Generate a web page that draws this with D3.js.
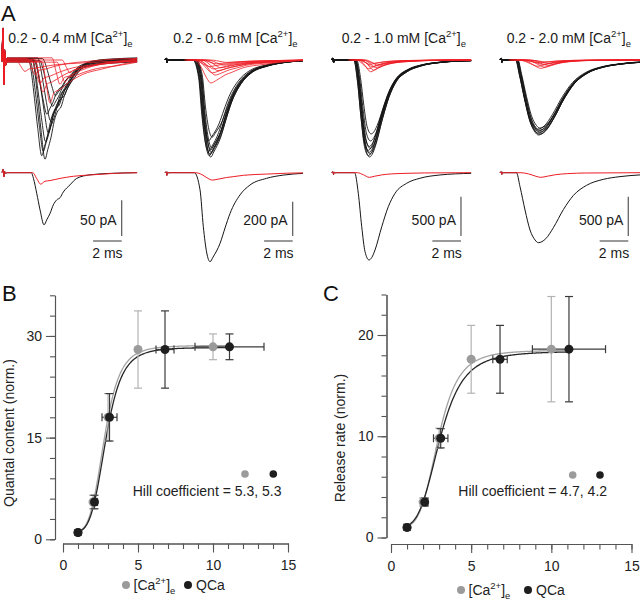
<!DOCTYPE html>
<html><head><meta charset="utf-8">
<script src="https://cdn.jsdelivr.net/npm/d3@7"></script>
<style>
body{margin:0;background:#fff}
svg{display:block}
text{font-family:"Liberation Sans",Arial,Helvetica,sans-serif}
</style>
</head><body>
<svg id="c" width="640" height="600"></svg>
<script>
// ================= DATA =================
// ---- Panel A : EPSC traces ----
const titlesA = ["0.2 - 0.4", "0.2 - 0.6", "0.2 - 1.0", "0.2 - 2.0"];
const scaleBarPA = [50, 200, 500, 500];
const scaleBarMs = 2;
const traceEndMs = [9.45, 9.65, 9.75, 9.8];

// stimulus artifact (time ms, current pA; + = inward/downward)
const artT = [0, 0.08, 0.13, 0.18, 0.25, 0.35];
const artTop = [[0,-42,32,-12,5,0],[0,-10,16,-4,1,0],[0,-25,35,-8,2,0],[0,-20,30,-6,2,0]];
const artAvg = [[0,-5,6,-2,1,0],[0,-6,16,-3,1,0],[0,-15,25,-5,1,0],[0,-15,22,-5,1,0]];

// averaged traces (key points: time ms, amplitude pA)
const avgBlackT = [
  [0,2.05,2.2,2.43,2.66,2.94,3.13,3.36,3.59,3.83,4.06,4.29,4.76,5.22,6.15,7.55,9.45],
  [0,2.05,2.45,2.68,2.92,3.15,3.36,3.85,4.2,4.55,5.24,5.94,7.1,8.27,9.65],
  [0,1.6,1.86,2.1,2.33,2.61,2.8,3.03,3.5,3.96,4.43,5.24,6.17,7.57,9.75],
  [0,1.15,1.4,1.75,2.1,2.45,2.68,3.2,3.73,4.43,5.13,6.06,7.22,8.39,9.8]
];
const avgBlackV = [
  [0,0,8,29,52,73,66,57,45,38,35,27,17,8,3,1,0],
  [0,0,100,315,468,519,492,412,322,237,130,72,33,14,4],
  [0,0,262,687,1005,1110,1080,983,687,432,262,135,71,29,8],
  [0,0,178,475,729,856,890,840,700,470,290,160,85,50,28]
];
const avgRedT = [
  [0,2.15,2.45,2.7,3.0,3.36,4.06,5.0,6.3,7.8,9.45],
  [0,2.15,2.6,3.0,3.3,3.7,4.3,4.78,5.5,7.1,8.5,9.65],
  [0,1.8,2.2,2.63,3.0,3.5,4.2,5.2,6.5,9.75],
  [0,1.4,2.0,2.5,2.85,3.3,3.9,4.7,6.0,9.8]
];
const avgRedV = [
  [0,0,9,16,12,11,8,5,3,1,0],
  [0,0,12,33,43,38,28,23,15,8,3,1],
  [0,0,25,59,45,28,15,8,3,0],
  [0,0,15,45,59,45,25,12,4,0]
];

// individual sweeps: peak amplitude (pA) and latency shift (ms)
const sweepBlackAmp = [
  [141,133,125,115,100,88,76,64,52],
  [566,558,550,542,534,525,512,470,450],
  [1234,1215,1195,1175,1150,1125,1100,1030,940],
  [954,942,930,918,905,893,880,866]
];
const sweepBlackShift = [
  [0.07,-0.16,-0.05,0.1,0.3,0.45,0.2,0.6,0.8],
  [0.05,-0.05,0,0.1,-0.1,0.05,0.12,-0.08,0.15],
  [0.03,-0.04,0.06,0,-0.06,0.08,0.02,0.1,0.15],
  [0,0.04,-0.04,0.08,-0.02,0.06,-0.06,0.1]
];
const sweepRedAmp = [
  [58,46,37,32,28,22,18,14],
  [134,88,75,62,52,45,38,30,22,14],
  [150,130,112,96,82,68,55,42],
  [106,92,80,68,56,45,35,25]
];
const sweepRedShift = [
  [0.65,0.16,1.35,-0.05,1.7,-0.4,2.05,-1.1],
  [-0.1,0.2,0,0.4,0.1,0.6,-0.2,0.8,0.3,1.0],
  [0.1,0.3,-0.05,0.45,0.2,0.6,0.05,0.35],
  [0,0.3,-0.2,0.5,0.15,0.6,-0.1,0.4]
];
// baseline offsets of the noisy 0.4 mM sweeps (pA)
const sweepBlackOffset1 = [-2,1,3,-1,2,-3,0,1,-2];
const sweepRedOffset1 = [2,-1,-3,1,3,-2,0,2];

// ---- Panel B : quantal content ----
const caB_x = [1, 2, 3, 5, 10];
const caB_y = [1, 5.5, 18, 28, 28.4];
const caB_yErr = [0.4, 1.0, 3.5, 5.7, 1.9];
const qcaB_x = [1, 2.1, 3.1, 6.8, 11.1];
const qcaB_y = [1, 5.5, 18, 28, 28.4];
const qcaB_xErr = [0.1, 0.2, 0.5, 0.6, 2.3];
const qcaB_yErr = [0.4, 1.0, 3.5, 5.7, 1.9];
const hillB_n = [5.3, 5.3], hillB_K = [2.75, 2.85], hillB_max = [28.6, 28.3];
const ticksB_y = [0, 15, 30];

// ---- Panel C : release rate ----
const caC_x = [1, 2, 3, 5, 10];
const caC_y = [1, 3.5, 9.8, 17.6, 18.6];
const caC_yErr = [0.3, 0.4, 1.0, 3.35, 5.2];
const qcaC_x = [1, 2.1, 3.1, 6.8, 11.1];
const qcaC_y = [1, 3.5, 9.8, 17.6, 18.6];
const qcaC_xErr = [0.1, 0.2, 0.45, 0.45, 2.28];
const qcaC_yErr = [0.3, 0.4, 0.95, 3.35, 5.2];
const hillC_n = [4.7, 4.2], hillC_K = [2.95, 3.05], hillC_max = [18.5, 18.4];
const ticksC_y = [0, 10, 20];
const ticksX = [0, 5, 10, 15];

// ================= DRAW =================
const svg = d3.select("#c");
const RED = "#ed1c24", BLK = "#151515", AX = "#555";

svg.append("text").attr("x",1).attr("y",20.5).attr("font-size",22).attr("fill","#111").text("A");
svg.append("text").attr("x",2).attr("y",300.5).attr("font-size",22).attr("fill","#111").text("B");
svg.append("text").attr("x",323).attr("y",300.5).attr("font-size",22).attr("fill","#111").text("C");

// ---------- Panel A ----------
const colX0 = [2, 165, 331.7, 500];
const titleX = [8.3, 173.3, 341.7, 506.7];
const pxPerMs = 14.3;
const pxPerPA = [0.714, 0.1715, 0.0786, 0.0786];
const topBase = 60, avgBase = 172.7;
const barRightMs = [8.37, 8.93, 9.04, 8.97];

function buildTrace(T, V, peak, amp, shift, offs, aV, tEnd, tStart) {
  const pts = [];
  if (aV) artT.forEach((t, i) => pts.push([t, aV[i] + offs]));
  else pts.push([tStart, offs]);
  const lastPt = pts[pts.length - 1][0];
  T.forEach((t, i) => {
    const ts = t + shift;
    if (ts > lastPt && ts < tEnd) pts.push([ts, V[i] / peak * amp + offs]);
  });
  pts.push([tEnd, V[V.length - 1] / peak * amp + offs]);
  return pts;
}

for (let c = 0; c < 4; c++) {
  const g = svg.append("g");
  const x = d3.scaleLinear().domain([0, 10]).range([colX0[c], colX0[c] + 10 * pxPerMs]);
  const yTop = d3.scaleLinear().domain([0, scaleBarPA[c]]).range([topBase, topBase + scaleBarPA[c] * pxPerPA[c]]);
  const yAvg = d3.scaleLinear().domain([0, scaleBarPA[c]]).range([avgBase, avgBase + scaleBarPA[c] * pxPerPA[c]]);
  const tEnd = traceEndMs[c];
  const bPeak = d3.max(avgBlackV[c]), rPeak = d3.max(avgRedV[c]);

  // title
  const t = g.append("text").attr("x", titleX[c]).attr("y", 43.3).attr("font-size", 14).attr("fill", "#1a1a1a");
  t.append("tspan").text(titlesA[c] + " mM [Ca");
  t.append("tspan").attr("font-size", 9.5).attr("dy", -6).text("2+");
  t.append("tspan").attr("dy", 6).text("]");
  t.append("tspan").attr("font-size", 9.5).attr("dy", 3.5).text("e");

  const lineTop = d3.line().x(d => x(d[0])).y(d => yTop(d[1])).curve(d3.curveMonotoneX);
  const lineAvg = d3.line().x(d => x(d[0])).y(d => yAvg(d[1])).curve(d3.curveMonotoneX);

  // top: individual sweeps
  sweepBlackAmp[c].forEach((a, i) => {
    const off = c === 0 ? sweepBlackOffset1[i] : 0;
    g.append("path").attr("d", lineTop(buildTrace(avgBlackT[c], avgBlackV[c], bPeak, a, sweepBlackShift[c][i], off, artTop[c], tEnd)))
      .attr("fill", "none").attr("stroke", BLK).attr("stroke-width", 0.9);
  });
  sweepRedAmp[c].forEach((a, i) => {
    const off = c === 0 ? sweepRedOffset1[i] : 0;
    const pts = c === 0
      ? buildTrace(avgRedT[c], avgRedV[c], rPeak, a, sweepRedShift[c][i], off, artTop[c], tEnd)
      : buildTrace(avgRedT[c], avgRedV[c], rPeak, a, sweepRedShift[c][i], off, null, tEnd, avgRedT[c][1] + sweepRedShift[c][i] - 0.6);
    g.append("path").attr("d", lineTop(pts))
      .attr("fill", "none").attr("stroke", RED).attr("stroke-width", 0.8);
  });

  // bottom: averages
  g.append("path").attr("d", lineAvg(buildTrace(avgBlackT[c], avgBlackV[c], bPeak, bPeak, 0, 0, artAvg[c], tEnd)))
    .attr("fill", "none").attr("stroke", BLK).attr("stroke-width", 1);
  g.append("path").attr("d", lineAvg(buildTrace(avgRedT[c], avgRedV[c], rPeak, rPeak, 0, 0, artAvg[c], tEnd)))
    .attr("fill", "none").attr("stroke", RED).attr("stroke-width", 1);

  // scale bars
  const bx = x(barRightMs[c]);
  const vBot = 236, vTop = vBot - (yAvg(scaleBarPA[c]) - yAvg(0));
  g.append("line").attr("x1", bx).attr("x2", bx).attr("y1", vTop).attr("y2", vBot)
    .attr("stroke", AX).attr("stroke-width", 1.2);
  const hx0 = x(barRightMs[c] - scaleBarMs);
  g.append("line").attr("x1", hx0).attr("x2", bx).attr("y1", 241).attr("y2", 241)
    .attr("stroke", AX).attr("stroke-width", 1.2);
  g.append("text").attr("x", bx - 5).attr("y", 224.5).attr("text-anchor", "end").attr("font-size", 14)
    .attr("fill", "#1a1a1a").text(scaleBarPA[c] + " pA");
  g.append("text").attr("x", (hx0 + bx) / 2).attr("y", 258.3).attr("text-anchor", "middle").attr("font-size", 14)
    .attr("fill", "#1a1a1a").text(scaleBarMs + " ms");
}

// ---------- Panels B & C ----------
function drawPanel(cfg) {
  const g = svg.append("g");
  const x = d3.scaleLinear().domain([0, 15]).range(cfg.xRange);
  const y = d3.scaleLinear().domain([0, cfg.yMax]).range(cfg.yRange);

  function styleAxis(sel) {
    sel.select(".domain").attr("stroke", AX).attr("stroke-width", 1.1);
    sel.selectAll(".tick line").attr("stroke", AX).attr("stroke-width", 1.1);
    sel.selectAll(".tick text").attr("font-size", 14).attr("fill", "#222")
      .attr("font-family", "'Liberation Sans',Arial,sans-serif");
  }
  // y axis
  g.append("g").attr("transform", `translate(${cfg.yAxisX},0)`)
    .call(d3.axisLeft(y).tickValues(d3.range(0, cfg.yMax + 0.01, cfg.yMinor)).tickSize(5).tickSizeOuter(0).tickFormat(""))
    .call(styleAxis);
  g.append("g").attr("transform", `translate(${cfg.yAxisX},0)`)
    .call(d3.axisLeft(y).tickValues(cfg.yMajor).tickSize(9).tickSizeOuter(0).tickPadding(4).tickFormat(d3.format("d")))
    .call(styleAxis);
  // x axis
  g.append("g").attr("transform", `translate(0,${cfg.xAxisY})`)
    .call(d3.axisBottom(x).tickValues(d3.range(0, 16, 1)).tickSize(5.5).tickSizeOuter(0).tickFormat(""))
    .call(styleAxis);
  g.append("g").attr("transform", `translate(0,${cfg.xAxisY})`)
    .call(d3.axisBottom(x).tickValues(ticksX).tickSize(9).tickSizeOuter(0).tickPadding(8).tickFormat(d3.format("d")))
    .call(styleAxis);

  // axis title
  g.append("text").attr("transform", `translate(${cfg.titleX},${cfg.titleY}) rotate(-90)`)
    .attr("text-anchor", "middle").attr("font-size", 14).attr("fill", "#222").text(cfg.title);

  // Hill fits
  const fitCols = ["#a3a3a3", "#262626"];
  [0, 1].forEach(k => {
    const n = cfg.hillN[k], K = cfg.hillK[k], m = cfg.hillMax[k];
    const xs = d3.range(1, 11.01, 0.05);
    const pts = xs.map(v => [v, 1 + (m - 1) * Math.pow(v, n) / (Math.pow(v, n) + Math.pow(K, n))]);
    g.append("path").attr("d", d3.line().x(d => x(d[0])).y(d => y(d[1])).curve(d3.curveBasis)(pts))
      .attr("fill", "none").attr("stroke", fitCols[k]).attr("stroke-width", 1.3);
  });

  const cap = 4;
  // gray ([Ca]e) error bars
  cfg.gx.forEach((v, i) => {
    const e = cfg.gyErr[i];
    const X = x(v);
    g.append("line").attr("x1", X).attr("x2", X).attr("y1", y(cfg.gy[i] - e)).attr("y2", y(cfg.gy[i] + e)).attr("stroke", "#b3b3b3").attr("stroke-width", 1.2);
    [cfg.gy[i] - e, cfg.gy[i] + e].forEach(yy => g.append("line").attr("x1", X - cap).attr("x2", X + cap).attr("y1", y(yy)).attr("y2", y(yy)).attr("stroke", "#b3b3b3").attr("stroke-width", 1.2));
  });
  // black (QCa) error bars
  cfg.bx.forEach((v, i) => {
    const ey = cfg.byErr[i], ex = cfg.bxErr[i];
    const X = x(v), Y = y(cfg.by[i]);
    const col = "#3a3a3a";
    g.append("line").attr("x1", X).attr("x2", X).attr("y1", y(cfg.by[i] - ey)).attr("y2", y(cfg.by[i] + ey)).attr("stroke", col).attr("stroke-width", 1.2);
    [cfg.by[i] - ey, cfg.by[i] + ey].forEach(yy => g.append("line").attr("x1", X - cap).attr("x2", X + cap).attr("y1", y(yy)).attr("y2", y(yy)).attr("stroke", col).attr("stroke-width", 1.2));
    g.append("line").attr("x1", x(v - ex)).attr("x2", x(v + ex)).attr("y1", Y).attr("y2", Y).attr("stroke", col).attr("stroke-width", 1.2);
    [v - ex, v + ex].forEach(xx => g.append("line").attr("x1", x(xx)).attr("x2", x(xx)).attr("y1", Y - cap).attr("y2", Y + cap).attr("stroke", col).attr("stroke-width", 1.2));
  });
  // points
  cfg.gx.forEach((v, i) => g.append("circle").attr("cx", x(v)).attr("cy", y(cfg.gy[i])).attr("r", 4.5).attr("fill", "#9b9b9b"));
  cfg.bx.forEach((v, i) => g.append("circle").attr("cx", x(v)).attr("cy", y(cfg.by[i])).attr("r", 4.5).attr("fill", "#1e1e1e"));

  // Hill coefficient annotation
  g.append("text").attr("x", cfg.hillX).attr("y", 496).attr("font-size", 14).attr("fill", "#222")
    .text(`Hill coefficient = ${cfg.hillN[0].toFixed(1)}, ${cfg.hillN[1].toFixed(1)}`);
  g.append("circle").attr("cx", cfg.hillDots[0]).attr("cy", cfg.hillDotY).attr("r", 3.8).attr("fill", "#9b9b9b");
  g.append("circle").attr("cx", cfg.hillDots[1]).attr("cy", cfg.hillDotY).attr("r", 3.8).attr("fill", "#1e1e1e");

  // legend
  const L = cfg.legend;
  g.append("circle").attr("cx", L.g).attr("cy", L.y - 5).attr("r", 4).attr("fill", "#9b9b9b");
  const lt = g.append("text").attr("x", L.g + 7.5).attr("y", L.y).attr("font-size", 14).attr("fill", "#222");
  lt.append("tspan").text("[Ca");
  lt.append("tspan").attr("font-size", 9.5).attr("dy", -6).text("2+");
  lt.append("tspan").attr("dy", 6).text("]");
  lt.append("tspan").attr("font-size", 9.5).attr("dy", 3.5).text("e");
  g.append("circle").attr("cx", L.b).attr("cy", L.y - 5).attr("r", 4).attr("fill", "#1e1e1e");
  g.append("text").attr("x", L.b + 8).attr("y", L.y).attr("font-size", 14).attr("fill", "#222").text("QCa");
}

drawPanel({
  xRange: [63, 288], yMax: 36, yRange: [539.3, 295.3], yMinor: 3, yMajor: ticksB_y,
  yAxisX: 55, xAxisY: 543.5, title: "Quantal content (norm.)", titleX: 13.8, titleY: 433,
  gx: caB_x, gy: caB_y, gyErr: caB_yErr, bx: qcaB_x, by: qcaB_y, bxErr: qcaB_xErr, byErr: qcaB_yErr,
  hillN: hillB_n, hillK: hillB_K, hillMax: hillB_max,
  hillX: 132.7, hillDots: [245, 273.3], hillDotY: 474,
  legend: { g: 126, b: 188, y: 590 }
});
drawPanel({
  xRange: [391, 631.5], yMax: 24, yRange: [537.5, 294.5], yMinor: 2, yMajor: ticksC_y,
  yAxisX: 386.5, xAxisY: 544, title: "Release rate (norm.)", titleX: 345, titleY: 438,
  gx: caC_x, gy: caC_y, gyErr: caC_yErr, bx: qcaC_x, by: qcaC_y, bxErr: qcaC_xErr, byErr: qcaC_yErr,
  hillN: hillC_n, hillK: hillC_K, hillMax: hillC_max,
  hillX: 458.3, hillDots: [572.7, 600], hillDotY: 475,
  legend: { g: 461, b: 528, y: 595 }
});
</script>
</body></html>
